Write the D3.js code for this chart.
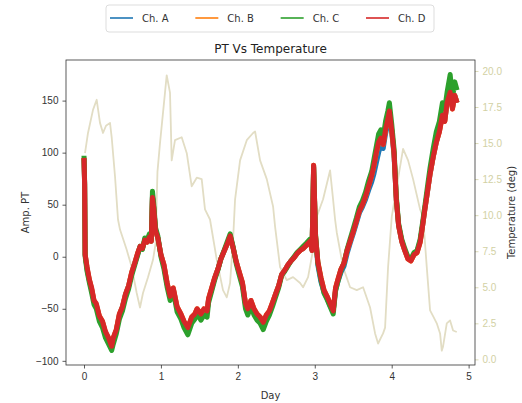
<!DOCTYPE html>
<html>
<head>
<meta charset="utf-8">
<script src="https://cdn.jsdelivr.net/npm/d3@7"></script>
<style>
  body { margin: 0; background: #fff; }
  svg { font-family: "DejaVu Sans", sans-serif; }
  .tick text { fill: #333; font-size: 10px; }
</style>
</head>
<body>
<div id="chart"></div>
<script>
// PT channels, sampled by day
const days = [0.000, 0.008, 0.015, 0.04, 0.07, 0.10, 0.13, 0.16, 0.20, 0.24, 0.28, 0.32, 0.36, 0.38, 0.42, 0.46, 0.50, 0.54, 0.58, 0.62, 0.66, 0.70, 0.73, 0.76, 0.79, 0.82, 0.85, 0.875, 0.89, 0.905, 0.93, 0.96,
  1.00, 1.04, 1.08, 1.12, 1.16, 1.21, 1.26, 1.30, 1.35, 1.40, 1.44, 1.47, 1.52, 1.56, 1.60, 1.62, 1.66, 1.70, 1.74, 1.78, 1.82, 1.86, 1.90, 1.94, 1.98,
  2.02, 2.06, 2.10, 2.13, 2.17, 2.21, 2.25, 2.29, 2.33, 2.37, 2.41, 2.45, 2.49, 2.53, 2.57, 2.61, 2.65, 2.69, 2.73, 2.77, 2.81, 2.85, 2.89, 2.94, 2.965, 2.985,
  3.01, 3.04, 3.08, 3.12, 3.16, 3.20, 3.24, 3.27, 3.30, 3.34, 3.38, 3.42, 3.46, 3.50, 3.54, 3.58, 3.62, 3.66, 3.70, 3.74, 3.77, 3.80, 3.83, 3.86, 3.89, 3.92, 3.95, 3.97,
  4.00, 4.03, 4.06, 4.09, 4.13, 4.17, 4.21, 4.25, 4.29, 4.33, 4.37, 4.40, 4.43, 4.47, 4.50, 4.54, 4.58, 4.62, 4.66, 4.69, 4.72, 4.76, 4.79, 4.82, 4.85]

const chA = [94, 70, 2, -12, -23, -32, -43, -47, -58, -63, -74, -79, -86, -79, -71, -56, -48, -36, -28, -16, -6, 3, 10, 8, 16, 14, 19, 15, 58, 48, 26, 18,
  2, -9, -26, -38, -31, -49, -56, -63, -69, -59, -56, -51, -56, -51, -53, -41, -31, -20, -12, -2, 5, 12, 20, 8, -5,
  -16, -26, -46, -51, -43, -51, -56, -59, -64, -57, -53, -45, -36, -28, -17, -13, -8, -4, -1, 3, 6, 8, 11, 15, 6, 87,
  18, -8, -24, -34, -40, -47, -52, -32, -24, -15, -9, 3, 13, 22, 32, 42, 48, 55, 64, 72, 80, 90, 100, 108, 104, 118, 128, 138,
  120, 98, 55, 30, 15, 6, -1, -3, 2, 5, 15, 29, 45, 65, 80, 96, 110, 121, 137, 131, 148, 158, 143, 155, 148]

const chB = [95, 70, 2, -11, -22, -31, -42, -46, -57, -62, -73, -78, -86, -78, -70, -55, -48, -36, -28, -15, -6, 4, 10, 8, 16, 14, 19, 15, 57, 48, 25, 18,
  2, -8, -25, -38, -30, -48, -55, -62, -68, -58, -55, -50, -55, -50, -52, -40, -30, -20, -12, -2, 5, 12, 20, 8, -5,
  -15, -25, -45, -50, -42, -50, -55, -58, -63, -56, -52, -44, -36, -28, -17, -13, -8, -4, -1, 3, 6, 8, 11, 15, 6, 88,
  20, -5, -20, -32, -38, -45, -52, -30, -22, -12, -6, 6, 15, 24, 34, 44, 50, 58, 68, 78, 88, 100, 110, 114, 108, 122, 132, 140,
  122, 100, 55, 30, 15, 6, -2, -4, 2, 4, 14, 29, 45, 65, 80, 96, 110, 120, 136, 130, 148, 158, 142, 155, 148]

const chC = [97, 72, 0, -14, -25, -35, -46, -50, -62, -68, -78, -84, -90, -84, -74, -60, -52, -40, -31, -18, -8, 2, 10, 7, 18, 16, 22, 17, 63, 52, 28, 20,
  0, -12, -29, -42, -33, -53, -60, -68, -75, -64, -60, -55, -61, -56, -58, -44, -33, -22, -13, -2, 6, 14, 22, 9, -7,
  -18, -29, -50, -56, -47, -56, -61, -64, -70, -62, -56, -48, -39, -30, -18, -14, -9, -4, 0, 4, 7, 10, 13, 17, 7, 86,
  22, -6, -22, -35, -41, -48, -55, -33, -24, -13, -6, 7, 17, 27, 37, 48, 54, 62, 73, 82, 94, 106, 118, 122, 115, 130, 140, 148,
  128, 104, 58, 32, 17, 8, 0, -2, 4, 6, 17, 32, 48, 70, 86, 104, 120, 130, 148, 142, 158, 175, 152, 168, 160]

const chD = [95, 70, 2, -10, -22, -30, -42, -45, -57, -62, -72, -78, -86, -78, -70, -55, -48, -36, -28, -15, -6, 4, 10, 8, 16, 14, 19, 15, 57, 48, 25, 18,
  2, -8, -25, -38, -30, -48, -55, -62, -68, -58, -55, -50, -55, -50, -52, -40, -30, -20, -12, -2, 5, 12, 20, 8, -5,
  -15, -25, -45, -50, -42, -50, -55, -58, -63, -56, -52, -44, -36, -28, -17, -13, -8, -4, -1, 3, 6, 8, 11, 15, 6, 88,
  20, -5, -20, -32, -38, -45, -52, -30, -22, -12, -6, 6, 15, 24, 34, 44, 50, 58, 68, 78, 88, 100, 110, 114, 108, 122, 132, 140,
  122, 100, 55, 30, 15, 6, -2, -4, 2, 4, 14, 29, 45, 65, 80, 96, 110, 120, 136, 130, 148, 158, 142, 155, 148]

// temperature, sampled separately
const tempDays = [0.013, 0.052, 0.117, 0.165, 0.208, 0.247, 0.286, 0.338, 0.36, 0.403, 0.442, 0.468, 0.555, 0.62, 0.685, 0.728, 0.767, 0.832, 0.897, 0.93, 0.955, 0.988,
  1.053, 1.075, 1.118, 1.14, 1.183, 1.27, 1.336, 1.40, 1.466, 1.53, 1.573, 1.638, 1.726, 1.807, 1.856, 1.899, 1.938, 1.964,
  2.029, 2.116, 2.198, 2.224, 2.289, 2.376, 2.458, 2.484, 2.549, 2.636, 2.718, 2.809, 2.848, 2.913, 2.978,
  3.026, 3.108, 3.199, 3.238, 3.264, 3.286, 3.368, 3.459, 3.546, 3.628, 3.719, 3.784, 3.823, 3.888, 3.914, 3.953,
  4.001, 4.066, 4.148, 4.213, 4.278, 4.369, 4.408, 4.456, 4.499, 4.538, 4.586, 4.629, 4.651, 4.668, 4.716, 4.759, 4.798, 4.846]

const temps = [14.3, 15.7, 17.3, 18.0, 16.4, 15.7, 16.2, 16.4, 15.4, 12.7, 9.7, 9.0, 7.6, 6.4, 4.6, 3.6, 4.6, 5.7, 6.9, 8.0, 13.0, 15.0,
  18.5, 19.7, 18.5, 13.8, 15.2, 15.4, 14.3, 12.0, 12.6, 12.5, 10.4, 9.7, 6.9, 4.8, 4.3, 5.3, 8.3, 11.1,
  13.8, 15.2, 15.7, 15.8, 13.8, 12.5, 10.6, 9.2, 6.4, 5.5, 5.7, 5.3, 5.0, 5.7, 7.6,
  9.9, 11.1, 13.1, 11.1, 9.7, 8.8, 6.4, 5.0, 4.8, 5.0, 3.6, 1.8, 1.1, 1.8, 2.2, 6.4,
  9.9, 12.0, 14.6, 13.8, 12.5, 10.4, 9.9, 6.4, 3.4, 3.0, 2.5, 1.8, 0.6, 0.9, 2.5, 2.7, 2.0, 1.9]

const channels = [
  { label: 'Ch. A', color: '#1f77b4', values: chA },
  { label: 'Ch. B', color: '#ff7f0e', values: chB },
  { label: 'Ch. C', color: '#2ca02c', values: chC },
  { label: 'Ch. D', color: '#d62728', values: chD },
]

const xTicks = [0, 1, 2, 3, 4, 5]
const yTicks = [-100, -50, 0, 50, 100, 150]
const tTicks = [0, 2.5, 5, 7.5, 10, 12.5, 15, 17.5, 20]

const render = () => {
  const width = 522, height = 403
  const left = 66, right = 475, top = 60, bottom = 365
  const tempColor = '#e2ddc4', tempText = '#d2d1a4'

  const svg = d3.select('#chart').append('svg')
    .attr('width', width)
    .attr('height', height)

  const x = d3.scaleLinear().domain([-0.234, 5.083]).range([left, right])
  const y = d3.scaleLinear().domain([-104, 189]).range([bottom, top])
  const yT = d3.scaleLinear().domain([-0.39, 20.76]).range([bottom, top])

  svg.append('clipPath').attr('id', 'clip')
    .append('rect')
    .attr('x', left).attr('y', top)
    .attr('width', right - left).attr('height', bottom - top)

  const plot = svg.append('g').attr('clip-path', 'url(#clip)')

  // temperature underneath
  plot.append('path')
    .datum(tempDays.map((d, i) => [d, temps[i]]))
    .attr('fill', 'none')
    .attr('stroke', tempColor)
    .attr('stroke-width', 1.8)
    .attr('stroke-linejoin', 'round')
    .attr('d', d3.line().x(d => x(d[0])).y(d => yT(d[1])))

  const line = d3.line().x(d => x(d[0])).y(d => y(d[1]))

  channels.forEach(ch => {
    plot.append('path')
      .datum(days.map((d, i) => [d, ch.values[i]]))
      .attr('fill', 'none')
      .attr('stroke', ch.color)
      .attr('stroke-width', 5)
      .attr('stroke-linejoin', 'round')
      .attr('d', line)
  })

  // axes
  const xAxis = svg.append('g')
    .attr('transform', `translate(0,${bottom})`)
    .call(d3.axisBottom(x).tickValues(xTicks).tickFormat(d3.format('d')).tickSize(3.5).tickPadding(4))
  const yAxis = svg.append('g')
    .attr('transform', `translate(${left},0)`)
    .call(d3.axisLeft(y).tickValues(yTicks).tickFormat(d => d < 0 ? '\u2212' + (-d) : d).tickSize(3.5).tickPadding(4))
  const tAxis = svg.append('g')
    .attr('transform', `translate(${right},0)`)
    .call(d3.axisRight(yT).tickValues(tTicks).tickFormat(d3.format('.1f')).tickSize(3.5).tickPadding(4))

  ;[xAxis, yAxis, tAxis].forEach(a => {
    a.select('.domain').remove()
    a.selectAll('.tick line').attr('stroke', '#333').attr('stroke-width', 0.8)
  })
  tAxis.selectAll('.tick line').attr('stroke', tempText)
  tAxis.selectAll('.tick text').style('fill', tempText)

  svg.append('rect')
    .attr('x', left).attr('y', top)
    .attr('width', right - left).attr('height', bottom - top)
    .attr('fill', 'none')
    .attr('stroke', '#333')
    .attr('stroke-width', 0.8)

  // labels
  svg.append('text')
    .attr('x', (left + right) / 2).attr('y', 53)
    .attr('text-anchor', 'middle')
    .attr('font-size', 12)
    .attr('fill', '#222')
    .text('PT Vs Temperature')

  svg.append('text')
    .attr('x', (left + right) / 2).attr('y', 399)
    .attr('text-anchor', 'middle')
    .attr('font-size', 10)
    .attr('fill', '#333')
    .text('Day')

  svg.append('text')
    .attr('transform', `translate(29,${(top + bottom) / 2}) rotate(-90)`)
    .attr('text-anchor', 'middle')
    .attr('font-size', 10)
    .attr('fill', '#333')
    .text('Amp. PT')

  svg.append('text')
    .attr('transform', `translate(515,${(top + bottom) / 2}) rotate(-90)`)
    .attr('text-anchor', 'middle')
    .attr('font-size', 10)
    .attr('fill', '#333')
    .text('Temperature (deg)')

  // legend
  const legend = svg.append('g')
  legend.append('rect')
    .attr('x', 106).attr('y', 5)
    .attr('width', 328).attr('height', 27)
    .attr('rx', 3)
    .attr('fill', '#fff')
    .attr('stroke', '#ddd')

  const legendX = d3.scalePoint().domain(channels.map(c => c.label)).range([110, 366])
  const items = legend.selectAll('.item')
    .data(channels)
    .enter().append('g')
    .attr('transform', d => `translate(${legendX(d.label)},18)`)

  items.append('line')
    .attr('x2', 23)
    .attr('stroke', d => d.color)
    .attr('stroke-width', 1.6)

  items.append('text')
    .attr('x', 32).attr('dy', '.35em')
    .attr('font-size', 10)
    .attr('fill', '#333')
    .text(d => d.label)
}

render()
</script>
</body>
</html>
